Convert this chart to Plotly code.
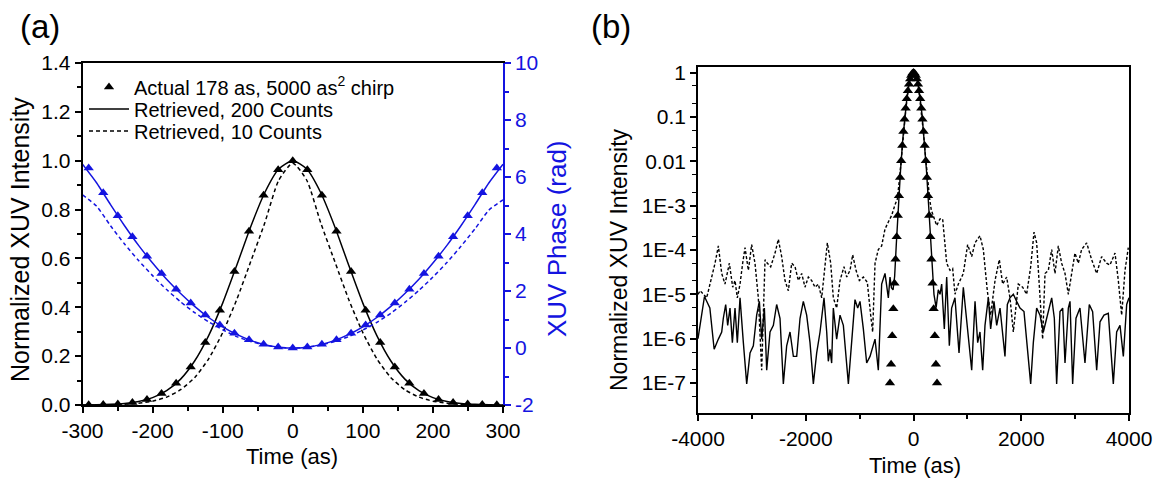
import plotly.graph_objects as go

# ---------------- Panel (a) data ----------------
t_actual = [-291.2, -270.4, -249.6, -228.8, -208.0, -187.2, -166.4, -145.6, -124.8, -104.0,
            -83.2, -62.4, -41.6, -20.8, 0.0, 20.8, 41.6, 62.4, 83.2, 104.0, 124.8, 145.6,
            166.4, 187.2, 208.0, 228.8, 249.6, 270.4, 291.2]
I_actual = [0.0006, 0.0017, 0.0043, 0.0102, 0.0227, 0.0466, 0.0886, 0.156, 0.256, 0.388,
            0.546, 0.711, 0.859, 0.963, 1.0, 0.963, 0.859, 0.711, 0.546, 0.388, 0.256, 0.156,
            0.0886, 0.0466, 0.0227, 0.0102, 0.0043, 0.0017, 0.0006]
phase_actual = [6.317, 5.447, 4.641, 3.900, 3.223, 2.611, 2.063, 1.579, 1.160, 0.806,
                0.516, 0.290, 0.129, 0.032, 0.0, 0.032, 0.129, 0.290, 0.516, 0.806, 1.160, 1.579,
                2.063, 2.611, 3.223, 3.900, 4.641, 5.447, 6.317]

t_ret = [-300, -280, -260, -240, -220, -200, -180, -160, -140, -120, -100, -80, -60, -40, -20, 0,
         20, 40, 60, 80, 100, 120, 140, 160, 180, 200, 220, 240, 260, 280, 300]
I_ret200 = [0.0004, 0.001, 0.0027, 0.0065, 0.0145, 0.0302, 0.0587, 0.106, 0.180, 0.284, 0.417,
            0.571, 0.730, 0.869, 0.966, 1.0, 0.966, 0.869, 0.730, 0.571, 0.417, 0.284, 0.180,
            0.106, 0.0587, 0.0302, 0.0145, 0.0065, 0.0027, 0.001, 0.0004]
I_ret10 = [0.0001, 0.0004, 0.0012, 0.0030, 0.0070, 0.0156, 0.0324, 0.0625, 0.112, 0.189, 0.296,
           0.431, 0.587, 0.745, 0.92, 0.99, 0.92, 0.745, 0.587, 0.431, 0.296, 0.189, 0.112,
           0.0625, 0.0324, 0.0156, 0.0070, 0.0030, 0.0012, 0.0004, 0.0001]
ph_ret200 = [6.45, 5.80, 5.03, 4.29, 3.60, 2.98, 2.41, 1.91, 1.46, 1.07, 0.745, 0.477, 0.268,
             0.119, 0.030, 0.0, 0.030, 0.119, 0.268, 0.477, 0.745, 1.07, 1.46, 1.91, 2.41, 2.98,
             3.60, 4.29, 5.03, 5.80, 6.45]
ph_ret10 = [5.37, 4.98, 4.29, 3.65, 3.07, 2.54, 2.05, 1.62, 1.24, 0.92, 0.64, 0.40, 0.23, 0.10,
            0.025, 0.0, 0.025, 0.10, 0.23, 0.40, 0.63, 0.90, 1.22, 1.60, 2.02, 2.49, 3.00, 3.57,
            4.18, 4.84, 5.20]

xa_ticks = [-300, -200, -100, 0, 100, 200, 300]
xa_text = ["-300", "-200", "-100", "0", "100", "200", "300"]
ph_ticks = [-2, 0, 2, 4, 6, 8, 10]
ph_text = ["-2", "0", "2", "4", "6", "8", "10"]

# ---------------- Panel (b) data (log10 of intensity) ----------------
t_b_actual = [-436.8, -416.0, -395.2, -374.4, -353.6, -332.8, -312.0, -291.2, -270.4, -249.6,
              -228.8, -208.0, -187.2, -166.4, -145.6, -124.8, -104.0, -83.2, -62.4, -41.6, -20.8,
              0.0, 20.8, 41.6, 62.4, 83.2, 104.0, 124.8, 145.6, 166.4, 187.2, 208.0, 228.8,
              249.6, 270.4, 291.2, 312.0, 332.8, 353.6, 374.4, 395.2, 416.0, 436.8]
log_b_actual = [-7.0, -6.578, -5.936, -5.328, -4.752, -4.21, -3.70, -3.223, -2.779, -2.368,
                -1.99, -1.644, -1.332, -1.052, -0.806, -0.592, -0.411, -0.263, -0.148, -0.066,
                -0.016, 0.0, -0.016, -0.066, -0.148, -0.263, -0.411, -0.592, -0.806, -1.052,
                -1.332, -1.644, -1.99, -2.368, -2.779, -3.223, -3.70, -4.21, -4.752, -5.328,
                -5.936, -6.578, -7.0]

t_b_200 = [-4000, -3880, -3780, -3700, -3622, -3560, -3530, -3486, -3449, -3406, -3362, -3313,
           -3270, -3220, -3158, -3096, -3034, -2973, -2911, -2861, -2818, -2768, -2725, -2663,
           -2601, -2540, -2478, -2416, -2354, -2292, -2230, -2168, -2106, -2045, -1983, -1921,
           -1859, -1797, -1735, -1661, -1611, -1581, -1550, -1519, -1488, -1426, -1364, -1302,
           -1209, -1147, -1086, -1036, -993, -931, -869, -807, -714, -653, -591, -529, -467,
           -436, -410, -380, -350, -320, -280, -240, -200, -160, -120, -80, -40, 0, 40, 80, 120,
           160, 200, 240, 280, 320, 350, 380, 420, 460, 492, 523, 572, 616, 665, 708, 770, 845,
           925, 987, 1030, 1080, 1142, 1191, 1234, 1284, 1327, 1389, 1432, 1494, 1544, 1606,
           1698, 1742, 1791, 1853, 1915, 1977, 2051, 2100, 2175, 2224, 2286, 2348, 2410, 2472,
           2565, 2614, 2657, 2719, 2769, 2812, 2874, 2905, 2954, 3016, 3090, 3183, 3263, 3325,
           3400, 3462, 3536, 3616, 3709, 3771, 3833, 3895, 3957, 4000]
log_b_200 = [-6.0, -5.05, -5.31, -6.24, -6.01, -5.85, -5.54, -5.23, -5.70, -5.31, -6.09, -5.31,
             -6.09, -5.08, -6.09, -7.02, -6.32, -6.16, -5.47, -5.16, -6.01, -5.31, -6.71, -5.85,
             -5.70, -5.23, -5.54, -7.02, -6.16, -5.85, -6.40, -6.40, -5.54, -5.16, -5.47, -6.09,
             -7.02, -6.32, -5.85, -5.08, -5.85, -6.51, -6.24, -6.55, -5.31, -6.01, -5.47, -5.70,
             -7.02, -6.01, -5.12, -5.31, -5.16, -5.78, -6.55, -6.40, -6.01, -6.71, -4.77, -4.53,
             -5.08, -4.61, -4.85, -4.90, -4.60, -3.89, -2.98, -2.19, -1.52, -0.97, -0.547, -0.243,
             -0.061, 0.0, -0.061, -0.243, -0.547, -0.97, -1.52, -2.19, -2.98, -3.89, -4.60, -5.0,
             -5.3, -4.9, -5.0, -4.77, -5.78, -4.61, -6.16, -5.31, -5.08, -6.32, -4.84, -5.54,
             -6.01, -6.71, -5.16, -6.09, -5.85, -6.71, -5.70, -5.08, -5.78, -5.16, -5.70, -5.31,
             -6.40, -5.23, -5.08, -5.0, -5.16, -5.31, -5.39, -6.01, -7.02, -6.09, -5.31, -5.47,
             -5.85, -5.54, -5.08, -5.54, -7.02, -5.39, -5.31, -6.55, -5.31, -5.16, -7.02, -5.54,
             -5.31, -6.55, -5.23, -5.39, -6.71, -5.62, -5.47, -5.43, -7.02, -5.85, -5.70, -6.40,
             -5.23, -5.08]

t_b_10 = [-4000, -3960, -3839, -3746, -3684, -3622, -3560, -3499, -3418, -3356, -3313, -3270,
          -3220, -3171, -3127, -3065, -3004, -2942, -2880, -2818, -2756, -2713, -2651, -2570,
          -2509, -2447, -2385, -2323, -2261, -2199, -2137, -2075, -2014, -1952, -1890, -1828,
          -1766, -1704, -1661, -1599, -1537, -1488, -1426, -1364, -1290, -1240, -1178, -1129,
          -1067, -1005, -931, -857, -795, -758, -714, -653, -591, -529, -467, -405, -343, -300,
          -260, -220, -180, -140, -100, -60, -20, 0, 20, 60, 100, 140, 180, 220, 260, 300, 330,
          368, 430, 492, 541, 616, 677, 727, 770, 832, 925, 1005, 1080, 1142, 1234, 1296, 1370,
          1432, 1513, 1593, 1655, 1729, 1791, 1853, 1902, 1946, 2026, 2100, 2175, 2237, 2286,
          2348, 2397, 2441, 2503, 2565, 2626, 2688, 2750, 2812, 2874, 2936, 2997, 3059, 3121,
          3214, 3307, 3400, 3492, 3585, 3647, 3740, 3802, 3864, 3926, 3987]
log_b_10 = [-5.0, -4.92, -5.08, -4.61, -4.30, -3.91, -4.53, -4.77, -4.30, -4.84, -4.69, -5.08,
            -4.77, -4.30, -3.95, -4.46, -3.88, -4.30, -5.08, -6.71, -4.22, -4.30, -4.38, -4.07,
            -3.76, -4.15, -4.69, -4.92, -4.30, -4.38, -4.69, -4.53, -4.84, -4.61, -4.69, -4.84,
            -4.77, -5.08, -4.61, -3.84, -4.30, -5.08, -5.31, -4.69, -4.38, -4.61, -4.46, -4.11,
            -4.46, -4.69, -4.61, -4.73, -5.47, -5.85, -4.30, -3.99, -3.91, -3.53, -3.37, -3.22,
            -2.98, -2.85, -2.4, -1.85, -1.3, -0.8, -0.42, -0.15, -0.02, -0.005, -0.02, -0.15,
            -0.42, -0.8, -1.3, -1.85, -2.4, -2.85, -3.1, -3.22, -3.45, -3.30, -3.30, -4.30,
            -4.46, -4.42, -5.0, -4.77, -4.53, -3.88, -4.15, -3.84, -3.68, -3.99, -4.92, -5.47,
            -4.69, -4.22, -4.77, -4.61, -5.08, -5.85, -5.23, -4.77, -4.84, -5.0, -4.38, -3.60,
            -3.84, -5.16, -6.01, -4.53, -4.46, -3.99, -4.53, -3.91, -4.30, -4.53, -5.0, -4.53,
            -4.07, -4.30, -3.99, -3.84, -4.22, -4.53, -4.15, -4.30, -4.34, -4.07, -4.69, -5.47,
            -4.46, -3.95]

xb_ticks = [-4000, -2000, 0, 2000, 4000]
xb_text = ["-4000", "-2000", "0", "2000", "4000"]
log_tick_vals = [1, 0.1, 0.01, 1e-3, 1e-4, 1e-5, 1e-6, 1e-7]
log_tick_text = ["1", "0.1", "0.01", "1E-3", "1E-4", "1E-5", "1E-6", "1E-7"]

BLUE = "#1414e0"
FONT = "Arial, 'Liberation Sans', sans-serif"
W, H = 1160, 479

fig = go.Figure()

# Panel (a) intensity
fig.add_trace(go.Scatter(x=t_actual, y=I_actual, mode="markers",
                         name="Actual 178 as, 5000 as<sup>2</sup> chirp", legend="legend",
                         marker=dict(symbol="triangle-up", size=9, color="black"), cliponaxis=False,
                         xaxis="x", yaxis="y"))
fig.add_trace(go.Scatter(x=t_ret, y=I_ret200, mode="lines", name="Retrieved, 200 Counts",
                         legend="legend2",
                         line=dict(color="black", width=1.5, shape="spline", smoothing=0.6),
                         xaxis="x", yaxis="y"))
fig.add_trace(go.Scatter(x=t_ret, y=I_ret10, mode="lines", name="Retrieved, 10 Counts",
                         legend="legend3",
                         line=dict(color="black", width=1.5, dash="4px,3px", shape="spline", smoothing=0.6),
                         xaxis="x", yaxis="y"))
# Panel (a) phase
fig.add_trace(go.Scatter(x=t_actual, y=phase_actual, mode="markers", showlegend=False,
                         marker=dict(symbol="triangle-up", size=9, color=BLUE), cliponaxis=False,
                         xaxis="x", yaxis="y2"))
fig.add_trace(go.Scatter(x=t_ret, y=ph_ret200, mode="lines", showlegend=False,
                         line=dict(color=BLUE, width=1.5, shape="spline", smoothing=0.6),
                         xaxis="x", yaxis="y2"))
fig.add_trace(go.Scatter(x=t_ret, y=ph_ret10, mode="lines", showlegend=False,
                         line=dict(color=BLUE, width=1.5, dash="4px,3px", shape="spline", smoothing=0.6),
                         xaxis="x", yaxis="y2"))

# Panel (b)
fig.add_trace(go.Scatter(x=t_b_10, y=[10 ** v for v in log_b_10], mode="lines", showlegend=False,
                         line=dict(color="black", width=1.4, dash="3px,2px"),
                         xaxis="x3", yaxis="y3"))
fig.add_trace(go.Scatter(x=t_b_200, y=[10 ** v for v in log_b_200], mode="lines", showlegend=False,
                         line=dict(color="black", width=1.4),
                         xaxis="x3", yaxis="y3"))
fig.add_trace(go.Scatter(x=t_b_actual, y=[10 ** v for v in log_b_actual], mode="markers", showlegend=False,
                         marker=dict(symbol="triangle-up", size=9, color="black"),
                         xaxis="x3", yaxis="y3"))


def axis_common(size):
    return dict(showline=True, linecolor="black", linewidth=1.5, ticks="outside", ticklen=6,
                tickwidth=1.5, tickcolor="black", showgrid=False, zeroline=False, automargin=False,
                tickfont=dict(family=FONT, size=size, color="black"))


def leg(ypx):
    return dict(x=84 / W, y=1 - ypx / H, xanchor="left", yanchor="middle", bgcolor="rgba(0,0,0,0)",
                font=dict(family=FONT, size=20, color="black"), itemwidth=40, borderwidth=0)


fig.update_layout(
    width=W, height=H,
    margin=dict(l=0, r=0, t=0, b=0, autoexpand=False),
    paper_bgcolor="white", plot_bgcolor="white",
    font=dict(family=FONT, color="black"),
    xaxis=dict(domain=[82.5 / W, 503 / W], range=[-300, 300], tickvals=xa_ticks, ticktext=xa_text,
               mirror=True,
               minor=dict(ticks="outside", ticklen=4, dtick=50, tick0=0, tickcolor="black", tickwidth=1.5),
               anchor="y", **axis_common(21)),
    yaxis=dict(domain=[1 - 405 / H, 1 - 63 / H], range=[0, 1.4], dtick=0.2, tickformat=".1f",
               minor=dict(ticks="outside", ticklen=4, dtick=0.1, tickcolor="black", tickwidth=1.5),
               anchor="x", **axis_common(21)),
    yaxis2=dict(overlaying="y", side="right", anchor="x", range=[-2, 10],
                tickvals=ph_ticks, ticktext=ph_text,
                showline=True, linecolor=BLUE, linewidth=1.5, ticks="outside", ticklen=6,
                tickwidth=1.5, tickcolor=BLUE, showgrid=False, zeroline=False, automargin=False,
                tickfont=dict(family=FONT, size=21, color=BLUE),
                minor=dict(ticks="outside", ticklen=4, dtick=1, tick0=0, tickcolor=BLUE, tickwidth=1.5)),
    xaxis3=dict(domain=[698 / W, 1129 / W], range=[-4000, 4000], tickvals=xb_ticks, ticktext=xb_text,
                mirror=True,
                minor=dict(ticks="outside", ticklen=4, dtick=1000, tick0=0, tickcolor="black", tickwidth=1.5),
                anchor="y3", **axis_common(21)),
    yaxis3=dict(domain=[1 - 413 / H, 1 - 67 / H], type="log", range=[-7.676, 0.124], mirror=True,
                tickvals=log_tick_vals, ticktext=log_tick_text,
                minor=dict(ticks="outside", ticklen=4, tickcolor="black", tickwidth=1.2),
                anchor="x3", **axis_common(21)),
    legend=leg(87), legend2=leg(109), legend3=leg(131),
    showlegend=True,
)

annots = [
    dict(text="(a)", x=40, y=26, size=33, color="black", angle=0),
    dict(text="(b)", x=611, y=26, size=33, color="black", angle=0),
    dict(text="Normalized XUV Intensity", x=20, y=240, size=25, color="black", angle=-90),
    dict(text="XUV Phase (rad)", x=557, y=239, size=26, color=BLUE, angle=-90),
    dict(text="Time (as)", x=292, y=456, size=22, color="black", angle=0),
    dict(text="Normalized XUV Intensity", x=619, y=260, size=23, color="black", angle=-90),
    dict(text="Time (as)", x=915, y=465, size=22, color="black", angle=0),
]
for a in annots:
    fig.add_annotation(text=a["text"], x=a["x"] / W, y=1 - a["y"] / H, xref="paper", yref="paper",
                       xanchor="center", yanchor="middle", showarrow=False, textangle=a["angle"],
                       font=dict(family=FONT, size=a["size"], color=a["color"]))

fig.write_html("out.html")
